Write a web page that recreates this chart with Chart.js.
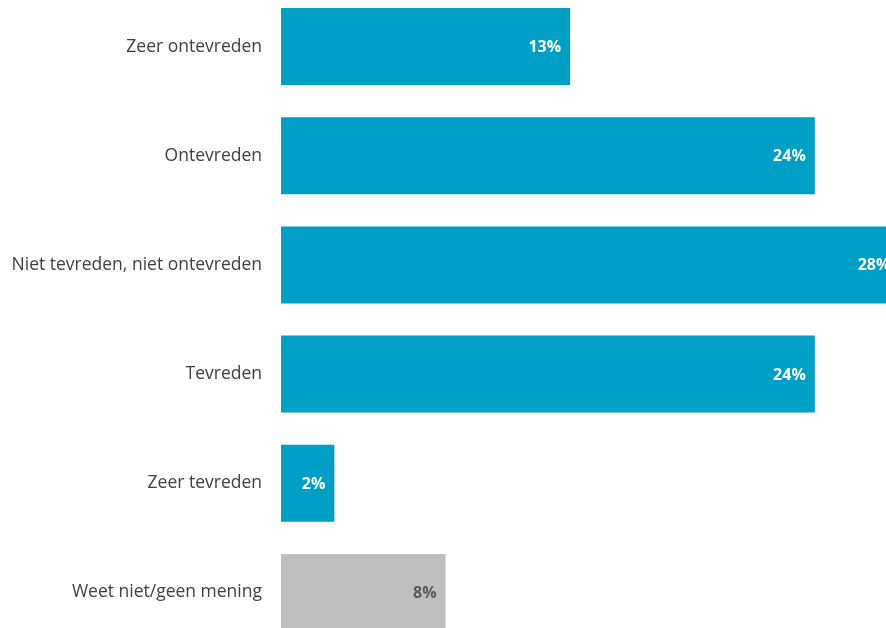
<!DOCTYPE html>
<html>
<head>
<meta charset="utf-8">
<script src="https://cdn.jsdelivr.net/npm/chart.js@4/dist/chart.umd.min.js"></script>
<style>
  html, body { margin: 0; padding: 0; background: #ffffff; overflow: hidden; width: 886px; height: 628px; }
  #c { position: absolute; left: 0; top: -8px; width: 886px; height: 655px; }
</style>
</head>
<body>
<canvas id="c" width="886" height="655"></canvas>
<script>
const categories = ["Zeer ontevreden", "Ontevreden", "Niet tevreden, niet ontevreden", "Tevreden", "Zeer tevreden", "Weet niet/geen mening"];
const values = [13, 24, 27.8, 24, 2.4, 7.4];
const valueLabels = ["13%", "24%", "28%", "24%", "2%", "8%"];
const barColors = ["#00A0C6", "#00A0C6", "#00A0C6", "#00A0C6", "#00A0C6", "#BFBFBF"];
const labelColors = ["#FFFFFF", "#FFFFFF", "#FFFFFF", "#FFFFFF", "#FFFFFF", "#595959"];

const valueLabelPlugin = {
  id: 'valueLabels',
  afterDatasetsDraw(chart) {
    const ctx = chart.ctx;
    const meta = chart.getDatasetMeta(0);
    ctx.save();
    ctx.font = 'bold 16px "Open Sans", sans-serif';
    ctx.textAlign = 'right';
    ctx.textBaseline = 'middle';
    meta.data.forEach((bar, i) => {
      ctx.fillStyle = labelColors[i];
      ctx.fillText(valueLabels[i], bar.x - 9, bar.y + 1);
    });
    ctx.restore();
  }
};

new Chart(document.getElementById('c'), {
  type: 'bar',
  data: {
    labels: categories,
    datasets: [{
      data: values,
      backgroundColor: barColors,
      borderWidth: 0,
      barPercentage: 0.705,
      categoryPercentage: 1.0
    }]
  },
  options: {
    indexAxis: 'y',
    responsive: false,
    maintainAspectRatio: false,
    devicePixelRatio: 1,
    animation: false,
    layout: { padding: 0 },
    plugins: { legend: { display: false }, tooltip: { enabled: false } },
    scales: {
      x: { display: false, min: 0, max: 27.2 },
      y: {
        grid: { display: false, drawTicks: false },
        border: { display: false },
        ticks: {
          color: '#404040',
          padding: 19,
          font: { family: '"Open Sans", sans-serif', size: 17.5 }
        },
        afterFit(scale) {
          scale.width = 281;
          scale.paddingTop = 0;
          scale.paddingBottom = 0;
        }
      }
    }
  },
  plugins: [valueLabelPlugin]
});
</script>
</body>
</html>
